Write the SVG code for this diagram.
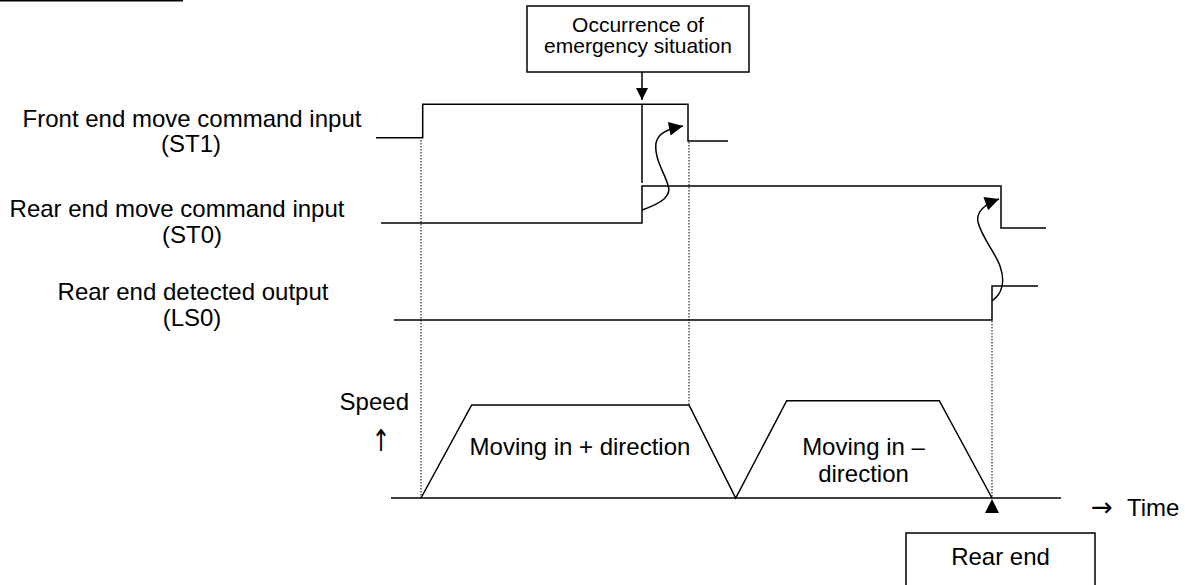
<svg xmlns="http://www.w3.org/2000/svg" width="1185" height="585" viewBox="0 0 1185 585">
<style>
.ln{fill:none;stroke:#000;stroke-width:1.5}
.dot{fill:none;stroke:#000;stroke-width:1;stroke-dasharray:1.5 1.5}
.t{font-family:"Liberation Sans",Arial,sans-serif;font-size:24px;fill:#000}
.tb{font-family:"Liberation Sans",Arial,sans-serif;font-size:21px;fill:#000}
.sym{font-family:"DejaVu Sans",sans-serif;fill:#000}
.c{text-anchor:middle}
.box{fill:#fff;stroke:#000;stroke-width:1.5}
</style>
<defs>
<marker id="ah" viewBox="0 0 10 10" refX="10" refY="5" markerWidth="13" markerHeight="12" markerUnits="userSpaceOnUse" orient="auto">
<path d="M0,0 L10,5 L0,10 z" fill="#000"/>
</marker>
<marker id="ah2" viewBox="0 0 10 10" refX="10" refY="5" markerWidth="16" markerHeight="14" markerUnits="userSpaceOnUse" orient="auto">
<path d="M0,0 L10,5 L0,10 z" fill="#000"/>
</marker>
</defs>
<rect width="1185" height="585" fill="#fff"/>
<line class="ln" x1="0" y1="0.8" x2="183" y2="0.8"/>

<g id="label-st1">
<text class="t c" x="192" y="127">Front end move command input</text>
<text class="t c" x="191" y="152">(ST1)</text>
</g>
<g id="label-st0">
<text class="t c" x="177" y="217">Rear end move command input</text>
<text class="t c" x="192" y="243">(ST0)</text>
</g>
<g id="label-ls0">
<text class="t c" x="193" y="300">Rear end detected output</text>
<text class="t c" x="192" y="326">(LS0)</text>
</g>

<g id="node-emergency">
<rect class="box" x="527" y="6" width="222" height="66"/>
<text class="tb c" x="638" y="32">Occurrence of</text>
<text class="tb c" x="638" y="53">emergency situation</text>
</g>

<g id="node-rear-end">
<rect class="box" x="906" y="533" width="189" height="60"/>
<text class="t c" x="1000.5" y="565">Rear end</text>
</g>

<g id="signals">
<polyline class="ln" points="376,137.7 422.7,137.7 422.7,104.3 688,104.3 688,141 728,141"/>
<line class="ln" x1="642" y1="104.3" x2="642" y2="183"/>
<polyline class="ln" points="381,223 642,223 642,186 1001,186 1001,228 1046,228"/>
<polyline class="ln" points="394,320 992,320 992,286 1038,286"/>
</g>

<g id="speed">
<line class="ln" x1="391" y1="498" x2="1061" y2="498"/>
<polyline class="ln" points="421,498 471.7,405 689,405 735.7,498 786.7,400.7 939.3,400.7 992,498"/>
<text class="t" x="409" y="410" text-anchor="end">Speed</text>
<text class="sym c" x="381" y="451" font-size="30" transform="translate(381 451) scale(0.75 1) translate(-381 -451)">↑</text>
<text class="sym" x="1091" y="516" font-size="26">→</text>
<text class="t" x="1127" y="516">Time</text>
<text class="t c" x="580" y="455">Moving in + direction</text>
<text class="t c" x="863.5" y="455">Moving in –</text>
<text class="t c" x="863.5" y="482">direction</text>
<path d="M992,499 L985,513 L999,513 Z" fill="#000"/>
</g>

<g id="connectors">
<line class="dot" x1="421" y1="140" x2="421" y2="498"/>
<line class="dot" x1="689" y1="142" x2="689" y2="405"/>
<line class="dot" x1="992" y1="321" x2="992" y2="498"/>
<line class="ln" x1="642" y1="72" x2="642" y2="100" marker-end="url(#ah)"/>
<path class="ln" d="M642,210 C662,203 672,196 668,185 C664,172 654,158 656,143 C658,133 668,129 683,126" marker-end="url(#ah2)"/>
<path class="ln" d="M992,301 C1003,293 1005,280 1000,266 C995,252 982,238 978,222 C976,212 985,204 999,199" marker-end="url(#ah2)"/>
</g>
</svg>
